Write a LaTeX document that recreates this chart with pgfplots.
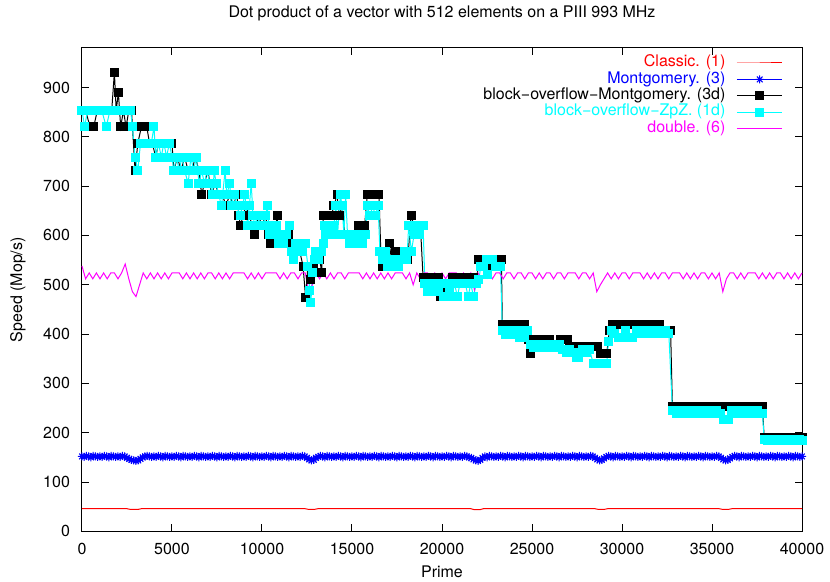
\documentclass[border=0pt]{standalone}
\usepackage{fontspec}
\setmainfont{TeX Gyre Heros}
\usepackage{pgfplots}
\pgfplotsset{compat=1.18}
\definecolor{gpred}{RGB}{255,0,0}
\definecolor{gpblue}{RGB}{0,0,255}
\definecolor{gpcyan}{RGB}{0,255,255}
\definecolor{gpmagenta}{RGB}{255,0,255}
% gnuplot point type 3: + and x on top of each other
\pgfdeclareplotmark{gpstar}{%
  \pgfpathmoveto{\pgfqpoint{-\pgfplotmarksize}{0pt}}\pgfpathlineto{\pgfqpoint{\pgfplotmarksize}{0pt}}%
  \pgfpathmoveto{\pgfqpoint{0pt}{-\pgfplotmarksize}}\pgfpathlineto{\pgfqpoint{0pt}{\pgfplotmarksize}}%
  \pgfpathmoveto{\pgfqpoint{-.707\pgfplotmarksize}{-.707\pgfplotmarksize}}\pgfpathlineto{\pgfqpoint{.707\pgfplotmarksize}{.707\pgfplotmarksize}}%
  \pgfpathmoveto{\pgfqpoint{-.707\pgfplotmarksize}{.707\pgfplotmarksize}}\pgfpathlineto{\pgfqpoint{.707\pgfplotmarksize}{-.707\pgfplotmarksize}}%
  \pgfusepathqstroke}

\begin{document}
\begin{tikzpicture}[font=\fontsize{8}{9.6}\selectfont]
\useasboundingbox (-41pt,-25pt) rectangle (374pt,265.7pt);
\begin{axis}[
  scale only axis,
  width=360pt, height=241.7pt,
  xmin=0, xmax=40000, ymin=0, ymax=980,
  xtick={0,5000,...,40000}, ytick={0,100,...,900},
  scaled x ticks=false,
  /pgf/number format/1000 sep={},
  /pgf/number format/assume math mode=true,
  major tick length=3.5pt,
  axis line style={line width=0.5pt},
  every tick/.style={black, line width=0.5pt},
  xticklabel style={yshift=-2.5pt},
  yticklabel style={xshift=-2.5pt},
  clip=false,
  title={Dot product of a vector with 512 elements on a PIII 993 MHz},
  title style={at={(rel axis cs:0.5,1)}, anchor=base, yshift=9pt},
  xlabel={Prime},
  xlabel style={at={(rel axis cs:0.5,0)}, anchor=center, yshift=-20pt},
  ylabel={Speed (Mop/s)},
  ylabel style={at={(rel axis cs:0,0.5)}, anchor=center, yshift=32pt},
  legend plot pos=right,
  legend cell align=right,
  legend style={draw=none, fill=none, at={(rel axis cs:1,1)}, anchor=north east,
    xshift=-9.3pt, yshift=-3.2pt, inner sep=0pt, row sep=0pt, column sep=5.5pt,
    nodes={inner sep=0pt, text height=6pt, text depth=2.2pt}},
  legend image code/.code={\draw[mark repeat=2, mark phase=2, #1] plot coordinates {(0pt,0pt) (11.4pt,0pt) (22.8pt,0pt)};},
]

% Classic (1)
\addplot[gpred, line width=0.5pt, mark=none] table {
x y
0 46
2500 46
2700 44.5
3100 44.5
3300 46
12400 46
12600 44.5
12900 44.5
13100 46
21600 46
21800 44
22100 44
22300 46
28500 46
28700 44.5
29000 44.5
29200 46
35400 46
35600 44.5
35900 44.5
36100 46
40000 46
};
\addlegendentry{\textcolor{gpred}{Classic. (1)}}

% Montgomery (3)
\addplot[gpblue, line width=0.5pt, mark=gpstar, mark size=2pt, mark options={solid, line width=0.5pt}] table {
x y
0 152
125 151
250 153
375 152
500 150
625 153
750 152
875 151
1000 152
1125 151
1250 153
1375 152
1500 150
1625 153
1750 152
1875 151
2000 152
2125 151
2250 153
2375 152
2500 149
2625 147
2750 145
2875 144
3000 143
3125 144
3250 147
3375 150
3500 152
3625 153
3750 152
3875 151
4000 152
4125 151
4250 153
4375 152
4500 150
4625 153
4750 152
4875 151
5000 152
5125 151
5250 153
5375 152
5500 150
5625 153
5750 152
5875 151
6000 152
6125 151
6250 153
6375 152
6500 150
6625 153
6750 152
6875 151
7000 152
7125 151
7250 153
7375 152
7500 150
7625 153
7750 152
7875 151
8000 152
8125 151
8250 153
8375 152
8500 150
8625 153
8750 152
8875 151
9000 152
9125 151
9250 153
9375 152
9500 150
9625 153
9750 152
9875 151
10000 152
10125 151
10250 153
10375 152
10500 150
10625 153
10750 152
10875 151
11000 152
11125 151
11250 153
11375 152
11500 150
11625 153
11750 152
11875 151
12000 152
12125 151
12250 153
12375 152
12500 149
12625 146
12750 144
12875 145
13000 149
13125 151
13250 153
13375 152
13500 150
13625 153
13750 152
13875 151
14000 152
14125 151
14250 153
14375 152
14500 150
14625 153
14750 152
14875 151
15000 152
15125 151
15250 153
15375 152
15500 150
15625 153
15750 152
15875 151
16000 152
16125 151
16250 153
16375 152
16500 150
16625 153
16750 152
16875 151
17000 152
17125 151
17250 153
17375 152
17500 150
17625 153
17750 152
17875 151
18000 152
18125 151
18250 153
18375 152
18500 150
18625 153
18750 152
18875 151
19000 152
19125 151
19250 153
19375 152
19500 150
19625 153
19750 152
19875 151
20000 152
20125 151
20250 153
20375 152
20500 150
20625 153
20750 152
20875 151
21000 152
21125 151
21250 153
21375 152
21500 150
21625 149
21750 146
21875 144
22000 143
22125 145
22250 149
22375 152
22500 150
22625 153
22750 152
22875 151
23000 152
23125 151
23250 153
23375 152
23500 150
23625 153
23750 152
23875 151
24000 152
24125 151
24250 153
24375 152
24500 150
24625 153
24750 152
24875 151
25000 152
25125 151
25250 153
25375 152
25500 150
25625 153
25750 152
25875 151
26000 152
26125 151
26250 153
26375 152
26500 150
26625 153
26750 152
26875 151
27000 152
27125 151
27250 153
27375 152
27500 150
27625 153
27750 152
27875 151
28000 152
28125 151
28250 153
28375 152
28500 149
28625 146
28750 144
28875 145
29000 148
29125 151
29250 153
29375 152
29500 150
29625 153
29750 152
29875 151
30000 152
30125 151
30250 153
30375 152
30500 150
30625 153
30750 152
30875 151
31000 152
31125 151
31250 153
31375 152
31500 150
31625 153
31750 152
31875 151
32000 152
32125 151
32250 153
32375 152
32500 150
32625 153
32750 152
32875 151
33000 152
33125 151
33250 153
33375 152
33500 150
33625 153
33750 152
33875 151
34000 152
34125 151
34250 153
34375 152
34500 150
34625 153
34750 152
34875 151
35000 152
35125 151
35250 153
35375 152
35500 149
35625 146
35750 144
35875 145
36000 148
36125 151
36250 153
36375 152
36500 150
36625 153
36750 152
36875 151
37000 152
37125 151
37250 153
37375 152
37500 150
37625 153
37750 152
37875 151
38000 152
38125 151
38250 153
38375 152
38500 150
38625 153
38750 152
38875 151
39000 152
39125 151
39250 153
39375 152
39500 150
39625 153
39750 152
39875 151
40000 152
};
\addlegendentry{\textcolor{gpblue}{Montgomery. (3)}}

% block-overflow-Montgomery (3d)
\addplot[black, line width=0.5pt, mark=square*, mark size=2pt, mark options={solid}] table {
x y
0 853
200 853
450 820
650 820
850 853
1050 853
1250 853
1450 853
1650 853
1800 931
1900 853
2020 890
2150 820
2300 853
2450 820
2600 853
2750 853
2950 731
3100 787
3300 820
3450 820
3600 820
3750 787
3900 787
4100 759
4250 787
4450 787
4650 787
4850 787
5000 787
5100 731
5300 759
5500 731
5700 759
5900 731
6100 731
6300 759
6500 731
6650 682
6800 706
7000 731
7200 682
7400 706
7600 682
7800 682
8000 660
8200 682
8400 660
8600 682
8720 640
8800 620
8950 640
9100 660
9300 640
9450 620
9610 602
9800 640
10000 620
10200 640
10350 602
10450 584
10650 584
10840 640
10950 584
11100 602
11300 584
11500 602
11700 584
11900 584
12100 567
12280 538
12420 475
12550 538
12650 538
12720 510
12840 538
13000 567
13200 552
13320 525
13400 640
13550 640
13700 640
13850 640
14000 660
14170 682
14300 640
14450 660
14600 602
14800 602
15000 584
15200 584
15350 620
15550 620
15700 620
15850 682
16000 682
16150 682
16300 682
16500 682
16600 567
16720 538
16900 552
17060 584
17200 552
17400 567
17550 567
17750 567
17900 552
18100 552
18280 640
18450 620
18600 620
18800 620
18950 514
19100 514
19300 514
19500 502
19650 514
19800 514
19930 476
20050 502
20200 486
20400 502
20610 514
20800 514
21000 514
21200 514
21390 514
21550 502
21740 514
21900 502
22050 552
22200 552
22350 552
22500 538
22700 538
22900 552
23100 552
23300 552
23350 420
23550 420
23750 420
23950 420
24100 408
24250 420
24450 420
24600 420
24780 390
24890 360
25000 390
25200 390
25350 378
25560 390
25750 390
25950 390
26150 378
26350 378
26560 390
26750 390
26950 390
27100 375
27300 375
27500 375
27700 375
27900 375
28100 375
28300 375
28500 375
28650 375
28800 360
29000 360
29150 360
29300 408
29450 420
29650 420
29850 420
30050 420
30250 420
30450 420
30650 420
30830 420
30950 408
31100 420
31300 420
31500 420
31700 420
31900 420
32100 420
32300 408
32500 408
32700 408
32800 253
33050 253
33300 253
33550 253
33800 253
34050 253
34300 253
34550 253
34800 253
35050 253
35300 253
35550 253
35800 253
36050 253
36300 253
36550 253
36800 253
37050 253
37300 253
37550 253
37800 253
37900 190
38100 190
38350 190
38600 190
38850 190
39100 190
39350 190
39600 190
39850 190
40000 190
};
\addlegendentry{block−overflow−Montgomery. (3d)}

% block-overflow-ZpZ (1d)
\addplot[gpcyan, line width=0.5pt, mark=square*, mark size=2pt, mark options={solid, fill=gpcyan}] table {
x y
0 853
150 820
300 853
500 853
700 853
900 853
1100 853
1350 820
1550 853
1750 853
1950 853
2150 853
2350 853
2550 853
2700 853
2800 820
2950 759
3100 731
3250 787
3450 787
3650 787
3850 787
4000 820
4100 759
4250 787
4400 759
4550 787
4700 759
4850 787
5000 759
5100 731
5250 759
5400 731
5550 759
5700 731
5900 706
6050 759
6200 731
6350 759
6500 706
6650 731
6800 706
6950 731
7100 706
7250 682
7350 731
7450 706
7600 682
7750 660
7950 731
8050 682
8200 706
8300 660
8450 682
8600 660
8800 640
8900 660
9050 682
9200 620
9300 660
9400 706
9500 640
9600 620
9750 640
9900 620
10050 620
10200 640
10300 660
10400 602
10550 620
10700 602
10800 620
10900 584
11050 602
11200 584
11350 602
11550 620
11650 567
11750 552
11850 584
11950 567
12100 584
12250 567
12400 584
12550 538
12650 488
12720 465
12800 525
12900 552
13000 567
13150 552
13300 567
13400 584
13450 620
13550 602
13700 620
13850 602
14000 620
14100 660
14200 602
14350 682
14450 660
14550 602
14650 682
14750 602
14850 584
15000 602
15150 584
15300 584
15450 602
15600 584
15750 602
15850 660
16000 640
16150 660
16300 640
16450 660
16550 567
16700 552
16850 567
17000 538
17150 552
17300 538
17450 552
17600 538
17750 552
17900 567
18050 552
18150 620
18300 567
18450 602
18600 620
18750 602
18950 620
19050 502
19200 486
19350 502
19500 486
19650 502
19800 486
19950 502
20100 476
20250 502
20400 486
20550 476
20700 502
20850 476
21000 502
21150 502
21300 502
21450 476
21600 502
21750 476
21900 502
22050 510
22150 538
22300 538
22450 552
22550 520
22650 552
22800 552
22950 538
23100 538
23250 538
23350 408
23500 400
23700 408
23900 400
24100 408
24300 393
24450 408
24600 393
24750 408
24900 378
25100 372
25300 378
25500 372
25700 378
25900 372
26100 378
26300 372
26500 378
26700 368
26900 362
27100 368
27300 362
27450 352
27600 352
27800 368
28000 362
28200 368
28400 341
28600 341
28800 341
29000 341
29150 341
29250 385
29400 408
29600 402
29800 393
30000 393
30200 408
30400 393
30600 393
30800 408
31000 402
31200 408
31400 402
31600 408
31800 402
32000 408
32200 402
32400 408
32600 402
32800 246
33000 240
33250 246
33500 240
33750 246
34000 240
34250 246
34500 240
34750 246
35000 240
35250 246
35450 240
35650 226
35900 226
36100 246
36300 240
36550 246
36800 240
37050 246
37300 240
37550 246
37800 240
37900 187
38100 185
38350 187
38600 185
38850 187
39100 185
39350 187
39600 185
39850 187
40000 185
};
\addlegendentry{\textcolor{gpcyan}{block−overflow−ZpZ. (1d)}}

% double (6)
\addplot[gpmagenta, line width=0.5pt, mark=none] table {
x y
0 538
200 512
400 524
600 512
800 524
1000 512
1200 524
1400 512
1600 524
1800 524
2000 512
2200 524
2400 542
2600 512
2800 486
3000 476
3200 500
3400 524
3600 512
3800 524
4000 512
4200 524
4400 512
4600 524
4800 512
5000 524
5200 524
5400 524
5600 512
5800 524
6000 512
6200 524
6400 512
6600 524
6800 512
7000 524
7200 524
7400 512
7600 524
7800 512
8000 524
8200 512
8400 524
8600 524
8800 524
9000 524
9200 512
9400 524
9600 512
9800 524
10000 512
10200 524
10400 524
10600 524
10800 524
11000 512
11200 524
11400 512
11600 524
11800 524
12000 512
12200 524
12400 524
12600 486
12800 500
13000 524
13200 512
13400 524
13600 512
13800 524
14000 512
14200 524
14400 524
14600 512
14800 524
15000 524
15200 524
15400 524
15600 512
15800 524
16000 512
16200 524
16400 512
16600 524
16800 512
17000 524
17200 512
17400 524
17600 524
17800 524
18000 512
18200 524
18400 500
18600 524
18800 512
19000 524
19200 524
19400 512
19600 524
19800 512
20000 524
20200 512
20400 524
20600 524
20800 524
21000 512
21200 524
21400 512
21600 524
21800 490
22000 524
22200 512
22400 524
22600 524
22800 512
23000 524
23200 524
23400 512
23600 524
23800 524
24000 512
24200 524
24400 524
24600 512
24800 524
25000 524
25200 512
25400 524
25600 512
25800 524
26000 524
26200 512
26400 524
26600 524
26800 512
27000 524
27200 524
27400 524
27600 512
27800 524
28000 524
28200 512
28400 524
28600 486
28800 500
29000 512
29200 524
29400 512
29600 524
29800 512
30000 524
30200 524
30400 512
30600 524
30800 524
31000 524
31200 512
31400 524
31600 512
31800 524
32000 512
32200 524
32400 524
32600 512
32800 524
33000 524
33200 524
33400 512
33600 524
33800 512
34000 524
34200 512
34400 524
34600 524
34800 512
35000 524
35200 512
35400 524
35600 486
35800 512
36000 524
36200 524
36400 512
36600 524
36800 512
37000 524
37200 524
37400 524
37600 512
37800 524
38000 512
38200 524
38400 512
38600 524
38800 524
39000 512
39200 524
39400 512
39600 524
39800 512
40000 524
};
\addlegendentry{\textcolor{gpmagenta}{double. (6)}}

\end{axis}
\end{tikzpicture}
\end{document}
